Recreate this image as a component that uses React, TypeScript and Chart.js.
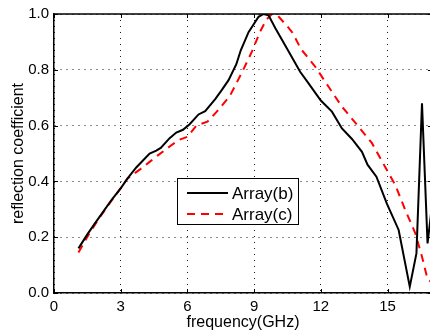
import React, { useEffect, useRef } from "react";
import { Chart, registerables } from "chart.js";

Chart.register(...registerables);

// ---- data ----
const bFreq = [1.1, 1.5, 1.8, 2.2, 2.6, 3.0, 3.3, 3.7, 4.0, 4.3, 4.6, 4.8, 5.2, 5.5, 5.8, 6.1, 6.5, 6.8, 7.25, 7.55, 7.85, 8.2, 8.4, 8.75, 9.2, 9.42, 9.65, 9.95, 10.47, 11.07, 11.4, 12.0, 12.5, 12.95, 13.4, 13.85, 14.1, 14.5, 14.97, 15.5, 16.0, 16.3, 16.55, 16.8, 17.2];
const bRefl = [0.16, 0.21, 0.245, 0.29, 0.335, 0.375, 0.41, 0.45, 0.475, 0.5, 0.51, 0.52, 0.555, 0.575, 0.585, 0.605, 0.64, 0.652, 0.695, 0.728, 0.763, 0.82, 0.87, 0.935, 0.99, 1.0, 0.995, 0.95, 0.877, 0.793, 0.757, 0.69, 0.65, 0.59, 0.552, 0.506, 0.46, 0.417, 0.32, 0.226, 0.023, 0.142, 0.68, 0.178, 0.45];

const cFreq = [1.1, 1.6, 2.0, 2.4, 2.9, 3.3, 3.9, 4.3, 4.7, 5.2, 5.6, 6.0, 6.4, 6.9, 7.3, 7.9, 8.45, 8.9, 9.27, 9.55, 9.8, 10.05, 10.45, 10.75, 11.1, 11.75, 12.35, 12.95, 13.7, 14.3, 14.8, 15.35, 15.8, 16.25, 16.55, 16.8, 17.1];
const cRefl = [0.145, 0.215, 0.265, 0.31, 0.365, 0.41, 0.445, 0.47, 0.495, 0.525, 0.548, 0.56, 0.6, 0.614, 0.648, 0.705, 0.79, 0.865, 0.937, 0.98, 1.0, 0.995, 0.96, 0.93, 0.875, 0.811, 0.739, 0.668, 0.596, 0.537, 0.465, 0.387, 0.297, 0.214, 0.13, 0.05, 0.03];

const seriesNames = ["Array(b)", "Array(c)"];
const xTicks = [0, 3, 6, 9, 12, 15];
const yTicks = [0, 0.2, 0.4, 0.6, 0.8, 1.0];
const xTitle = "frequency(GHz)";
const yTitle = "reflection coefficient";

const FONT = "'Liberation Sans', Arial, Helvetica, sans-serif";

const framePlugin = {
  id: "frame",
  afterDatasetsDraw(chart: any) {
    const { ctx, chartArea, scales } = chart;
    const { left, right, top, bottom } = chartArea;
    const x = scales.x;
    const y = scales.y;
    ctx.save();
    ctx.strokeStyle = "#000";
    ctx.lineWidth = 1;
    ctx.setLineDash([]);
    ctx.beginPath();
    xTicks.forEach((v) => {
      const px = Math.round(x.getPixelForValue(v)) + 0.5;
      ctx.moveTo(px, bottom);
      ctx.lineTo(px, bottom - 4);
      ctx.moveTo(px, top);
      ctx.lineTo(px, top + 4);
    });
    yTicks.forEach((v) => {
      const py = Math.round(y.getPixelForValue(v)) + 0.5;
      ctx.moveTo(left, py);
      ctx.lineTo(left + 4, py);
      ctx.moveTo(right, py);
      ctx.lineTo(right - 4, py);
    });
    ctx.stroke();
    ctx.lineWidth = 1.5;
    ctx.beginPath();
    ctx.moveTo(left, top);
    ctx.lineTo(right, top);
    ctx.lineTo(right, bottom);
    ctx.stroke();
    ctx.restore();
  },
};

const legendPlugin = {
  id: "boxLegend",
  afterDraw(chart: any) {
    const ctx = chart.ctx;
    const x0 = 177;
    const y0 = 178;
    const w = 121;
    const h = 46;
    ctx.save();
    ctx.fillStyle = "#fff";
    ctx.fillRect(x0, y0, w, h);
    ctx.strokeStyle = "#000";
    ctx.lineWidth = 1;
    ctx.setLineDash([]);
    ctx.strokeRect(x0 + 0.5, y0 + 0.5, w, h);
    chart.data.datasets.forEach((ds: any, i: number) => {
      const cy = y0 + 15 + i * 21;
      ctx.beginPath();
      ctx.setLineDash(ds.borderDash || []);
      ctx.strokeStyle = ds.borderColor;
      ctx.lineWidth = ds.borderWidth;
      ctx.moveTo(x0 + 10, cy);
      ctx.lineTo(x0 + 51, cy);
      ctx.stroke();
      ctx.setLineDash([]);
      ctx.fillStyle = "#000";
      ctx.font = `17px ${FONT}`;
      ctx.textAlign = "left";
      ctx.textBaseline = "middle";
      ctx.fillText(ds.label, x0 + 55, cy + 1);
    });
    ctx.restore();
  },
};

export default function App() {
  const ref = useRef<HTMLCanvasElement | null>(null);

  useEffect(() => {
    if (!ref.current) return;
    const chart = new Chart(ref.current, {
      type: "line",
      data: {
        datasets: [
          {
            label: seriesNames[0],
            data: bFreq.map((f, i) => ({ x: f, y: bRefl[i] })),
            borderColor: "#000000",
            borderWidth: 2,
            pointRadius: 0,
            tension: 0,
            fill: false,
          },
          {
            label: seriesNames[1],
            data: cFreq.map((f, i) => ({ x: f, y: cRefl[i] })),
            borderColor: "#ff0000",
            borderWidth: 2,
            borderDash: [8, 6],
            pointRadius: 0,
            tension: 0,
            fill: false,
          },
        ],
      },
      options: {
        animation: false,
        responsive: false,
        devicePixelRatio: 1,
        layout: { padding: { top: 14, right: 8, left: 0, bottom: 0 } },
        plugins: {
          legend: { display: false },
          tooltip: { enabled: false },
        },
        scales: {
          x: {
            type: "linear",
            min: 0,
            max: 17,
            afterBuildTicks: (axis: any) => {
              axis.ticks = xTicks.map((v) => ({ value: v }));
            },
            afterFit: (axis: any) => {
              axis.height = 42;
            },
            ticks: {
              color: "#000",
              font: { family: FONT, size: 15 },
              padding: 5,
              maxRotation: 0,
              callback: (v: any) => String(v),
            },
            grid: {
              color: "rgba(0,0,0,0.9)",
              lineWidth: 1,
              drawTicks: false,
            },
            border: { display: true, color: "#000", width: 1.5, dash: [1, 5] },
            title: {
              display: true,
              text: xTitle,
              color: "#000",
              font: { family: FONT, size: 16 },
              padding: { top: 0, bottom: 3 },
            },
          },
          y: {
            type: "linear",
            min: 0,
            max: 1,
            afterBuildTicks: (axis: any) => {
              axis.ticks = yTicks.map((v) => ({ value: v }));
            },
            afterFit: (axis: any) => {
              axis.width = 54;
            },
            ticks: {
              color: "#000",
              font: { family: FONT, size: 15 },
              padding: 5,
              callback: (v: any) => Number(v).toFixed(1),
            },
            grid: {
              color: "rgba(0,0,0,0.9)",
              lineWidth: 1,
              drawTicks: false,
            },
            border: { display: true, color: "#000", width: 1.5, dash: [1, 5] },
            title: {
              display: true,
              text: yTitle,
              color: "#000",
              font: { family: FONT, size: 16 },
              padding: { top: 9, bottom: 0 },
            },
          },
        },
      },
      plugins: [framePlugin, legendPlugin],
    } as any);
    return () => chart.destroy();
  }, []);

  return (
    <div
      style={{
        position: "fixed",
        left: 0,
        top: 0,
        width: 430,
        height: 335,
        overflow: "hidden",
        background: "#fff",
      }}
    >
      <canvas
        ref={ref}
        width={440}
        height={335}
        style={{ display: "block", width: 440, height: 335 }}
      />
    </div>
  );
}
